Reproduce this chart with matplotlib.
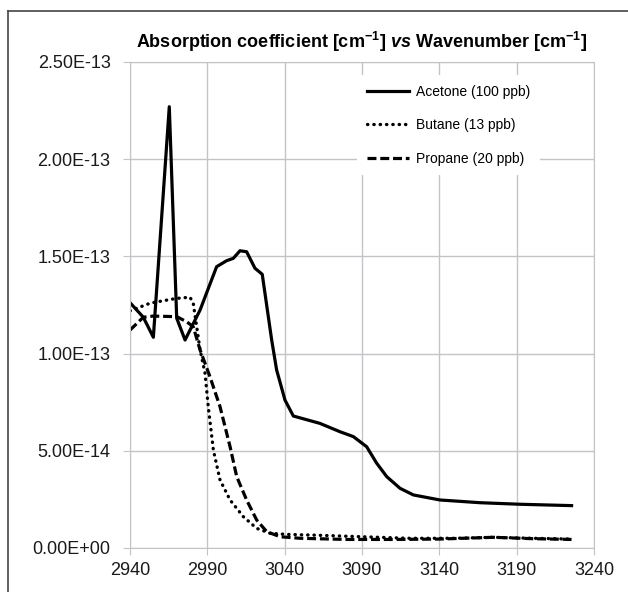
import matplotlib.pyplot as plt
from matplotlib.lines import Line2D

plt.rcParams['font.family'] = ['Liberation Sans', 'DejaVu Sans']
plt.rcParams['mathtext.fontset'] = 'custom'
plt.rcParams['mathtext.rm'] = 'Liberation Sans:bold'
plt.rcParams['mathtext.bf'] = 'Liberation Sans:bold'
plt.rcParams['mathtext.it'] = 'Liberation Sans:italic:bold'

# Acetone (100 ppb)
acetone_x = [2940, 2948.6, 2955.1, 2965.4, 2970.2, 2975.6, 2985.3, 2996.0, 3002.5,
             3006.8, 3011.1, 3015.4, 3020.8, 3025.5, 3031.6, 3034.8, 3040.2, 3045.6,
             3062.8, 3075.8, 3084.4, 3093.0, 3099.5, 3106.0, 3114.6, 3123.2, 3140.4,
             3166.3, 3192.1, 3225.5]
acetone_y = [12.62, 11.87, 10.84, 22.70, 11.82, 10.70, 12.24, 14.47, 14.78,
             14.90, 15.29, 15.24, 14.39, 14.08, 10.70, 9.16, 7.61, 6.79,
             6.41, 5.98, 5.73, 5.21, 4.36, 3.67, 3.07, 2.73, 2.47,
             2.33, 2.25, 2.18]

# Butane (13 ppb)
butane_x = [2940, 2952.9, 2961.5, 2970.2, 2978.8, 2980.9, 2985.3, 2988.5, 2990.6,
            2993.9, 2998.2, 3004.7, 3013.3, 3021.9, 3030.5, 3041.3, 3060, 3090,
            3120, 3150, 3175, 3200, 3225.5]
butane_y = [12.20, 12.59, 12.72, 12.84, 12.90, 12.59, 10.20, 8.99, 7.27,
            5.04, 3.50, 2.47, 1.61, 1.01, 0.76, 0.70, 0.66, 0.58,
            0.50, 0.50, 0.55, 0.50, 0.46]

# Propane (20 ppb)
propane_x = [2940, 2948.6, 2955.0, 2970.2, 2976.6, 2980.9, 2985.3, 2991.7, 2998.2,
             3004.7, 3009.0, 3015.4, 3021.9, 3028.4, 3037.0, 3049.9, 3080, 3110,
             3140, 3175, 3200, 3225.5]
propane_y = [11.21, 11.87, 11.93, 11.90, 11.64, 11.38, 10.19, 8.81, 7.27,
             5.21, 3.67, 2.47, 1.44, 0.84, 0.58, 0.50, 0.44, 0.44,
             0.46, 0.55, 0.48, 0.44]

xticks = [2940, 2990, 3040, 3090, 3140, 3190, 3240]
yticks = [0, 5e-14, 1e-13, 1.5e-13, 2e-13, 2.5e-13]
ytick_labels = ['0.00E+00', '5.00E-14', '1.00E-13', '1.50E-13', '2.00E-13', '2.50E-13']

fig = plt.figure(figsize=(6.28, 5.92), dpi=100)
ax = fig.add_axes([130/628, 44/592, 464/628, 486/592])

grid_c = '#c4c4c8'
ax.plot(acetone_x, [v * 1e-14 for v in acetone_y], color='black', lw=2.3,
        label='Acetone (100 ppb)', solid_joinstyle='round')
ax.plot(butane_x, [v * 1e-14 for v in butane_y], color='black', lw=2.4,
        linestyle=(0, (0.1, 1.8)), dash_capstyle='round', label='Butane (13 ppb)')
ax.plot(propane_x, [v * 1e-14 for v in propane_y], color='black', lw=2.3,
        linestyle=(0, (2.8, 1.2)), label='Propane (20 ppb)')

ax.set_xlim(2940, 3240)
ax.set_ylim(0, 2.5e-13)
ax.set_xticks(xticks)
ax.set_yticks(yticks)
ax.set_yticklabels(ytick_labels)
ax.grid(True, color=grid_c, lw=1)
ax.set_axisbelow(True)
for s in ax.spines.values():
    s.set_color(grid_c)
ax.tick_params(direction='out', length=5, color=grid_c, labelsize=13,
               labelcolor='#1a1a1a')
ax.tick_params(axis='y', pad=9)
ax.tick_params(axis='x', pad=5)

ax.set_title(r'Absorption coefficient [cm$^{\mathrm{-1}}$] $\mathit{vs}$ Wavenumber [cm$^{\mathrm{-1}}$]',
             fontsize=13, fontweight='bold', pad=10)

leg = ax.legend(loc='upper left', bbox_to_anchor=(0.49, 0.973), borderaxespad=0,
                fontsize=10, handlelength=3.0, handletextpad=0.55, labelspacing=1.4,
                frameon=True, facecolor='white', edgecolor='none', framealpha=1,
                fancybox=False, borderpad=0.7)

# outer frame of the picture
fig.add_artist(Line2D([8/628, 8/628], [0, 1 - 10.5/592], color='#444444', lw=1.2))
fig.add_artist(Line2D([8/628, 1], [1 - 10.5/592, 1 - 10.5/592], color='#444444', lw=1.2))

fig.savefig('out.png', dpi=100)
